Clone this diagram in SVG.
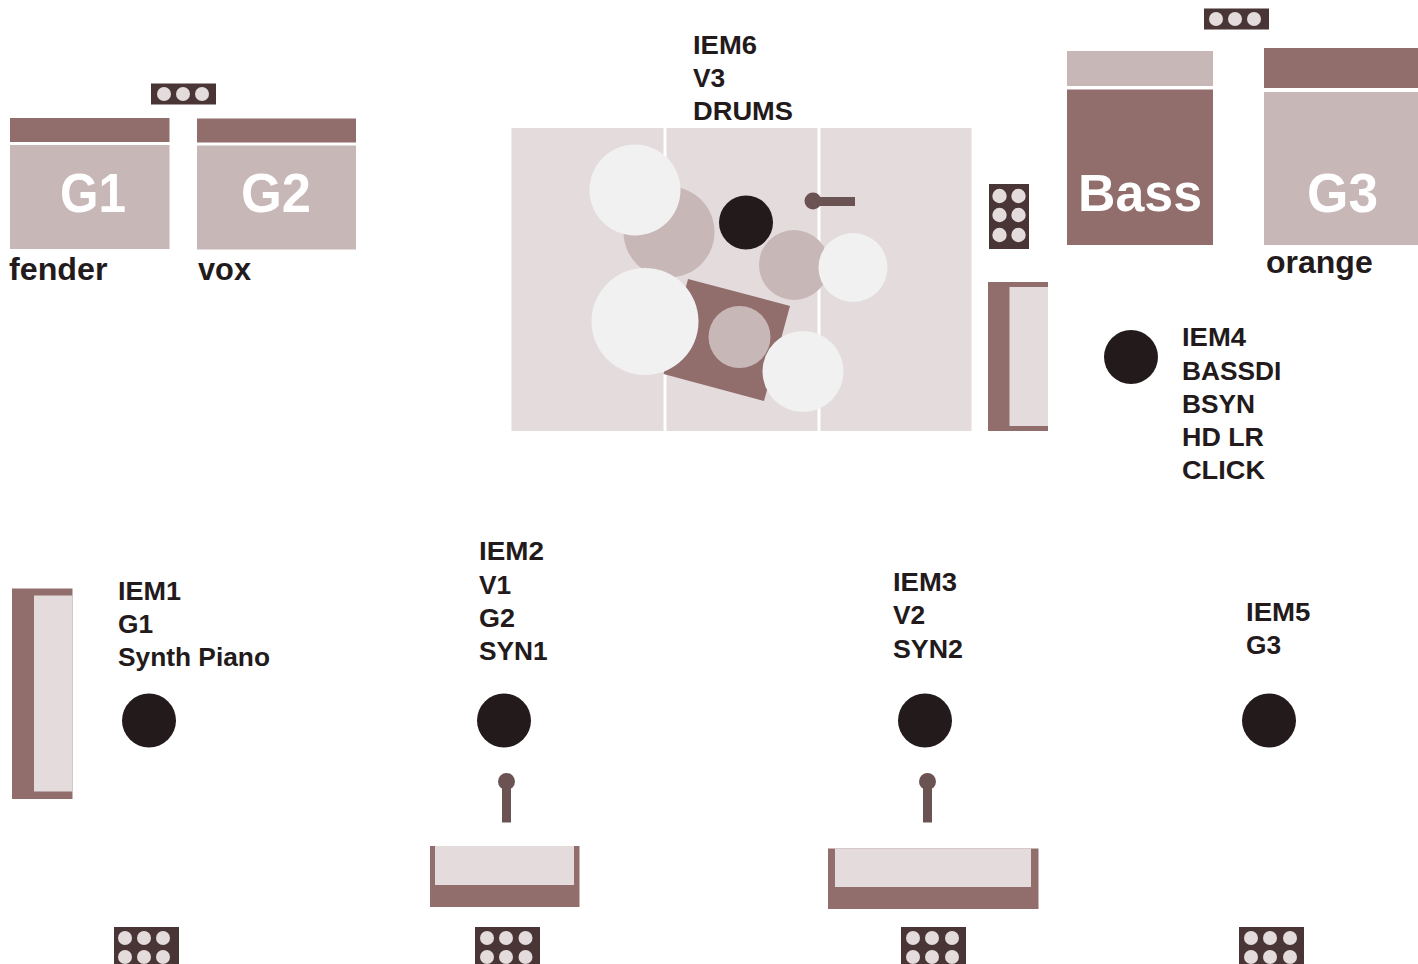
<svg xmlns="http://www.w3.org/2000/svg" width="1418" height="964" viewBox="0 0 1418 964">
<style>
.d{fill:#4a3536}.m{fill:#916d6c}.l{fill:#c8b7b7}.p{fill:#e3dbdc}.w{fill:#f1f1f1}.k{fill:#231a1c}.s{fill:#6c5353}.wl{fill:#fff}
text{font-family:"Liberation Sans",Arial,sans-serif;font-weight:700}
.t{font-size:26.3px;fill:#231a1c}.b{font-size:32px;fill:#231a1c}.a{font-size:55px;fill:#fff}
</style>
<rect width="1418" height="964" fill="#fff"/>
<g id="amp-g1"><rect class="m" x="10" y="118" width="159.500" height="24"/><rect class="l" x="10" y="145" width="159.500" height="104"/><text class="a" x="60" y="212" textLength="66" lengthAdjust="spacingAndGlyphs">G1</text><text class="b" x="9" y="280" textLength="98.500" lengthAdjust="spacingAndGlyphs">fender</text></g>
<g id="amp-g2"><rect class="m" x="197" y="118.500" width="159" height="24"/><rect class="l" x="197" y="145.500" width="159" height="104"/><text class="a" x="241" y="212" textLength="70" lengthAdjust="spacingAndGlyphs">G2</text><text class="b" x="198" y="280" textLength="53" lengthAdjust="spacingAndGlyphs">vox</text></g>
<g id="box-amps-left"><rect class="d" x="151" y="83.500" width="65" height="21"/><circle class="p" cx="164" cy="94" r="7"/><circle class="p" cx="183" cy="94" r="7"/><circle class="p" cx="202" cy="94" r="7"/></g>
<g id="drums">
<rect class="p" x="511.500" y="128" width="460" height="303"/>
<rect class="wl" x="663.500" y="128" width="3" height="303"/><rect class="wl" x="817.500" y="128" width="3" height="303"/>
<circle class="l" cx="669" cy="232" r="45.500"/>
<circle class="w" cx="635" cy="190" r="45.500"/>
<circle class="k" cx="746" cy="222.500" r="27"/>
<rect class="s" x="813" y="197" width="42" height="9"/><circle class="s" cx="813" cy="201" r="8.500"/>
<circle class="l" cx="794" cy="265" r="35"/>
<circle class="w" cx="853" cy="267.500" r="34.500"/>
<polygon class="m" points="688,279 790,306 764,401 663.500,374"/>
<circle class="w" cx="645" cy="321.500" r="53.500"/>
<circle class="l" cx="739.500" cy="337" r="31"/>
<circle class="w" cx="803" cy="371.500" r="40.500"/>
<text class="t" x="693" y="54" textLength="64" lengthAdjust="spacingAndGlyphs">IEM6</text><text class="t" x="693" y="87">V3</text><text class="t" x="693" y="120" textLength="100" lengthAdjust="spacingAndGlyphs">DRUMS</text>
</g>
<g id="box-drums"><rect class="d" x="989" y="184" width="40" height="65"/><circle class="p" cx="999.500" cy="196" r="7.200"/><circle class="p" cx="1018.500" cy="196" r="7.200"/><circle class="p" cx="999.500" cy="215" r="7.200"/><circle class="p" cx="1018.500" cy="215" r="7.200"/><circle class="p" cx="999.500" cy="235" r="7.200"/><circle class="p" cx="1018.500" cy="235" r="7.200"/></g>
<g id="keys-drums"><rect class="m" x="988" y="282" width="60" height="149"/><rect class="p" x="1009.500" y="287" width="38.500" height="139"/></g>
<g id="amp-bass"><rect class="l" x="1067" y="51" width="146" height="35"/><rect class="m" x="1067" y="89.500" width="146" height="155.500"/><text x="1078" y="211" font-size="51" fill="#fff" textLength="124" lengthAdjust="spacingAndGlyphs">Bass</text></g>
<g id="amp-g3"><rect class="m" x="1264" y="48" width="154" height="40"/><rect class="l" x="1264" y="92" width="154" height="153"/><text class="a" x="1307" y="212" textLength="71" lengthAdjust="spacingAndGlyphs">G3</text><text class="b" x="1266" y="272.500">orange</text></g>
<g id="box-amps-right"><rect class="d" x="1204" y="8.500" width="65" height="21"/><circle class="p" cx="1216" cy="19" r="7"/><circle class="p" cx="1235" cy="19" r="7"/><circle class="p" cx="1254" cy="19" r="7"/></g>
<g id="iem4"><circle class="k" cx="1131" cy="357" r="27"/><text class="t" x="1182" y="346" textLength="64" lengthAdjust="spacingAndGlyphs">IEM4</text><text class="t" x="1182" y="380">BASSDI</text><text class="t" x="1182" y="413">BSYN</text><text class="t" x="1182" y="446" textLength="82" lengthAdjust="spacingAndGlyphs">HD LR</text><text class="t" x="1182" y="479" textLength="83" lengthAdjust="spacingAndGlyphs">CLICK</text></g>
<g id="keys-left"><rect class="m" x="12" y="588.500" width="60.500" height="210.500"/><rect class="p" x="34" y="595.500" width="38.500" height="196"/></g>
<g id="iem1"><circle class="k" cx="149" cy="720.500" r="27"/><text class="t" x="118" y="599.500" textLength="63" lengthAdjust="spacingAndGlyphs">IEM1</text><text class="t" x="118" y="632.500">G1</text><text class="t" x="118" y="666">Synth Piano</text></g>
<g id="iem2"><circle class="k" cx="504" cy="720.500" r="27"/><text class="t" x="479" y="560" textLength="65" lengthAdjust="spacingAndGlyphs">IEM2</text><text class="t" x="479" y="593.500">V1</text><text class="t" x="479" y="626.500" textLength="36" lengthAdjust="spacingAndGlyphs">G2</text><text class="t" x="479" y="660">SYN1</text></g>
<g id="iem3"><circle class="k" cx="925" cy="720.500" r="27"/><text class="t" x="893" y="591" textLength="64" lengthAdjust="spacingAndGlyphs">IEM3</text><text class="t" x="893" y="624">V2</text><text class="t" x="893" y="657.500" textLength="70" lengthAdjust="spacingAndGlyphs">SYN2</text></g>
<g id="iem5"><circle class="k" cx="1269" cy="720.500" r="27"/><text class="t" x="1246" y="621" textLength="64.500" lengthAdjust="spacingAndGlyphs">IEM5</text><text class="t" x="1246" y="654">G3</text></g>
<g id="mic-1"><rect class="s" x="502" y="781" width="9" height="41.500"/><circle class="s" cx="506.500" cy="781.500" r="8.500"/></g>
<g id="mic-2"><rect class="s" x="923" y="781" width="9" height="41.500"/><circle class="s" cx="927.500" cy="781.500" r="8.500"/></g>
<g id="keys-1"><rect class="m" x="430" y="846" width="149.500" height="61"/><rect class="p" x="435" y="846" width="139" height="39"/></g>
<g id="keys-2"><rect class="m" x="828" y="848.500" width="210.500" height="60.500"/><rect class="p" x="835" y="848.500" width="196" height="38.500"/></g>
<g id="box-1"><rect class="d" x="114" y="927" width="65" height="37"/><circle class="p" cx="125" cy="938" r="7"/><circle class="p" cx="144" cy="938" r="7"/><circle class="p" cx="163" cy="938" r="7"/><circle class="p" cx="125" cy="957" r="7"/><circle class="p" cx="144" cy="957" r="7"/><circle class="p" cx="163" cy="957" r="7"/></g>
<g id="box-2"><rect class="d" x="475" y="927" width="65" height="37"/><circle class="p" cx="487" cy="938" r="7"/><circle class="p" cx="506" cy="938" r="7"/><circle class="p" cx="525.500" cy="938" r="7"/><circle class="p" cx="487" cy="957" r="7"/><circle class="p" cx="506" cy="957" r="7"/><circle class="p" cx="525.500" cy="957" r="7"/></g>
<g id="box-3"><rect class="d" x="901" y="927" width="65" height="37"/><circle class="p" cx="913" cy="938" r="7"/><circle class="p" cx="932" cy="938" r="7"/><circle class="p" cx="952" cy="938" r="7"/><circle class="p" cx="913" cy="957" r="7"/><circle class="p" cx="932" cy="957" r="7"/><circle class="p" cx="952" cy="957" r="7"/></g>
<g id="box-4"><rect class="d" x="1239" y="927" width="65" height="37"/><circle class="p" cx="1251" cy="938" r="7"/><circle class="p" cx="1270" cy="938" r="7"/><circle class="p" cx="1290" cy="938" r="7"/><circle class="p" cx="1251" cy="957" r="7"/><circle class="p" cx="1270" cy="957" r="7"/><circle class="p" cx="1290" cy="957" r="7"/></g>
</svg>
